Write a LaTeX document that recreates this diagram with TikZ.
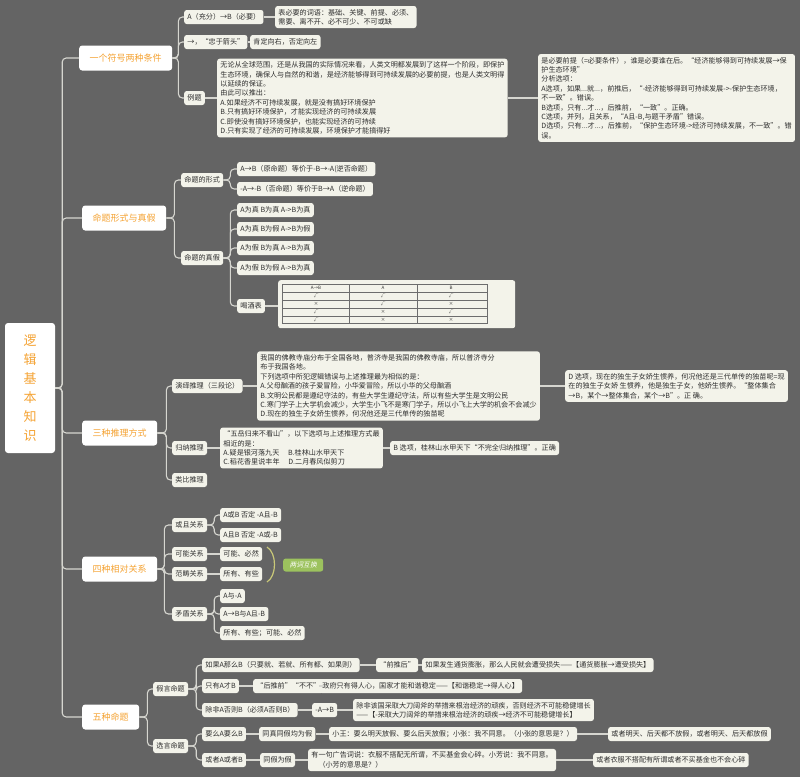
\documentclass[tikz,border=0pt]{standalone}
\usepackage{fontspec}
\setmainfont{Noto Sans CJK SC}
\newfontfamily\slantfont[FakeSlant=0.2]{Noto Sans CJK SC}
\usepackage{xcolor}
\usepackage{tikz}
\usetikzlibrary{positioning,calc}

\definecolor{bgray}{HTML}{646464}
\definecolor{cream}{HTML}{F3F3EA}
\definecolor{linegray}{HTML}{D6D6D0}
\definecolor{orangetxt}{HTML}{F5A333}
\definecolor{inktxt}{HTML}{2E2E2E}
\definecolor{leafgreen}{HTML}{9CC25E}
\definecolor{bracecol}{HTML}{C9C878}

\tikzset{
  rootbox/.style={fill=white, rounded corners=3, text=orangetxt, align=center,
    font=\fontsize{13}{19}\selectfont, minimum width=50, minimum height=130},
  topic/.style={fill=white, rounded corners=3, text=orangetxt, anchor=west,
    font=\fontsize{9}{11}\selectfont, minimum height=25, inner xsep=10.5},
  leaf/.style={fill=cream, rounded corners=2.5, text=inktxt, anchor=west, align=left,
    font=\fontsize{7.1}{9.4}\selectfont, inner xsep=3.2, inner ysep=3, minimum height=14},
  link/.style={draw=linegray, line width=1.1, rounded corners=4},
  tabline/.style={draw=inktxt!70, line width=0.4},
  tabtext/.style={text=inktxt, font=\fontsize{4.5}{5}\selectfont, inner sep=0},
}

\begin{document}
\begin{tikzpicture}[x=1pt,y=-1pt]
  \useasboundingbox (0,0) rectangle (800,777);
  \fill[bgray] (0,0) rectangle (800,777);

  \node[rootbox] (root) at (30,388) {逻\\辑\\基\\本\\知\\识};

  \node[topic] (b1) at (79,58) {一个符号两种条件};
  \node[topic] (b2) at (82,218) {命题形式与真假};
  \node[topic] (b3) at (82,433) {三种推理方式};
  \node[topic] (b4) at (82,569) {四种相对关系};
  \node[topic] (b5) at (82,717) {五种命题};
  \foreach \c in {b1,b2,b3,b4,b5}
    \draw[link] (root.east) -- ++(7,0) |- (\c.west);

  % one symbol, two conditions
  \node[leaf] (n11) at (184,17) {A（充分）→B（必要）};
  \node[leaf] (n111) at (275,17) {表必要的词语：基础、关键、前提、必须、\\需要、离不开、必不可少、不可或缺};
  \node[leaf] (n12) at (184,42) {→，“忠于箭头”};
  \node[leaf] (n121) at (250,42) {肯定向右，否定向左};
  \node[leaf] (n13) at (184,98) {例题};
  \node[leaf] (n131) at (217,98) {无论从全球范围，还是从我国的实际情况来看，人类文明都发展到了这样一个阶段，即保护\\生态环境，确保人与自然的和谐，是经济能够得到可持续发展的必要前提，也是人类文明得\\以延续的保证。\\由此可以推出：\\A.如果经济不可持续发展，就是没有搞好环境保护\\B.只有搞好环境保护，才能实现经济的可持续发展\\C.即使没有搞好环境保护，也能实现经济的可持续\\D.只有实现了经济的可持续发展，环境保护才能搞得好};
  \node[leaf] (n1311) at (538,98) {是必要前提（=必要条件），谁是必要谁在后。“经济能够得到可持续发展→保\\护生态环境”\\分析选项：\\A选项，如果...就...，前推后，“-经济能够得到可持续发展->-保护生态环境，\\不一致”。错误。\\B选项，只有...才...，后推前，“一致”。正确。\\C选项，并列，且关系，“A且-B,与题干矛盾”错误。\\D选项，只有...才...，后推前，“保护生态环境->经济可持续发展，不一致”。错\\误。};
  \foreach \c in {n11,n12,n13}
    \draw[link] (b1.east) -- ++(6,0) |- (\c.west);
  \draw[link] (n11.east) -- (n111.west);
  \draw[link] (n12.east) -- (n121.west);
  \draw[link] (n13.east) -- (n131.west);
  \draw[link] (n131.east) -- (n1311.west);

  % forms and truth
  \node[leaf] (m1) at (181,180) {命题的形式};
  \node[leaf] (m11) at (237,169) {A→B（原命题）等价于-B→-A(逆否命题）};
  \node[leaf] (m12) at (237,189) {-A→-B（否命题）等价于B→A（逆命题）};
  \node[leaf] (m2) at (181,258) {命题的真假};
  \node[leaf] (m21) at (237,210) {A为真 B为真 A->B为真};
  \node[leaf] (m22) at (237,229) {A为真 B为假 A->B为假};
  \node[leaf] (m23) at (237,248) {A为假 B为真 A->B为真};
  \node[leaf] (m24) at (237,268) {A为假 B为假 A->B为真};
  \node[leaf] (m25) at (237,306) {喝酒表};
  \node[leaf, anchor=north west, minimum width=237, minimum height=48, inner sep=0] (tb) at (278,280) {};
  \foreach \c in {m1,m2}
    \draw[link] (b2.east) -- ++(8,0) |- (\c.west);
  \foreach \c in {m11,m12}
    \draw[link] (m1.east) -- ++(7,0) |- (\c.west);
  \foreach \c in {m21,m22,m23,m24,m25}
    \draw[link] (m2.east) -- ++(7,0) |- (\c.west);
  \draw[link] (m25.east) -- (tb.west |- m25.east);

  \draw[tabline] (282,284) rectangle (487,323);
  \foreach \yy in {292,300,308,316}
    \draw[tabline] (282,\yy) -- (487,\yy);
  \foreach \xx in {349,417}
    \draw[tabline] (\xx,284) -- (\xx,323);
  \node[tabtext] (th1) at (316,288) {A→B};
  \node[tabtext] (th2) at (383,288) {A};
  \node[tabtext] (th3) at (451,288) {B};
  \foreach \yy/\p/\q/\r [count=\i] in {296/√/√/√, 304/×/√/×, 312/√/×/√, 320/√/×/×} {
    \node[tabtext] (ta\i) at (316,\yy) {\p};
    \node[tabtext] (tb\i) at (383,\yy) {\q};
    \node[tabtext] (tc\i) at (451,\yy) {\r};
  }

  % three kinds of reasoning
  \node[leaf] (t1) at (172,386) {演绎推理（三段论）};
  \node[leaf] (t11) at (257,386) {我国的佛教寺庙分布于全国各地，普济寺是我国的佛教寺庙，所以普济寺分\\布于我国各地。\\下列选项中所犯逻辑错误与上述推理最为相似的是：\\A.父母酗酒的孩子爱冒险，小华爱冒险，所以小华的父母酗酒\\B.文明公民都是遵纪守法的，有些大学生遵纪守法，所以有些大学生是文明公民\\C.寒门学子上大学机会减少，大学生小飞不是寒门学子，所以小飞上大学的机会不会减少\\D.现在的独生子女娇生惯养，何况他还是三代单传的独苗呢};
  \node[leaf] (t111) at (565,386) {D 选项，现在的独生子女娇生惯养，何况他还是三代单传的独苗呢=现\\在的独生子女娇 生惯养，他是独生子女，他娇生惯养。“整体集合\\→B，某个→整体集合，某个→B”。正 确。};
  \node[leaf] (t2) at (172,448) {归纳推理};
  \node[leaf] (t21) at (220,448) {“五岳归来不看山”，以下选项与上述推理方式最\\相近的是：\\A.疑是银河落九天\quad\ B.桂林山水甲天下\\C.稻花香里说丰年\quad\ D.二月春风似剪刀};
  \node[leaf] (t211) at (390,448) {B 选项，桂林山水甲天下“不完全归纳推理”。正确};
  \node[leaf] (t3) at (172,480) {类比推理};
  \foreach \c in {t1,t2,t3}
    \draw[link] (b3.east) -- ++(9,0) |- (\c.west);
  \draw[link] (t1.east) -- (t11.west);
  \draw[link] (t11.east) -- (t111.west);
  \draw[link] (t2.east) -- (t21.west);
  \draw[link] (t21.east) -- (t211.west);

  % four relations
  \node[leaf] (r1) at (172,525) {或且关系};
  \node[leaf] (r11) at (220,515) {A或B 否定 -A且-B};
  \node[leaf] (r12) at (220,535) {A且B 否定 -A或-B};
  \node[leaf] (r2) at (172,554) {可能关系};
  \node[leaf] (r21) at (220,554) {可能、必然};
  \node[leaf] (r3) at (172,574) {范畴关系};
  \node[leaf] (r31) at (220,574) {所有、有些};
  \node[leaf] (r4) at (172,614) {矛盾关系};
  \node[leaf] (r41) at (220,596) {A与-A};
  \node[leaf] (r42) at (220,614) {A→B与A且-B};
  \node[leaf] (r43) at (220,633) {所有、有些；可能、必然};
  \node[leaf, fill=leafgreen, text=white, font=\slantfont\fontsize{6.8}{9}\selectfont,
    minimum width=40, minimum height=13] (swap) at (283,565) {两词互换};
  \foreach \c in {r1,r2,r3,r4}
    \draw[link] (b4.east) -- ++(7,0) |- (\c.west);
  \foreach \c in {r11,r12}
    \draw[link] (r1.east) -- ++(7,0) |- (\c.west);
  \draw[link] (r2.east) -- (r21.west);
  \draw[link] (r3.east) -- (r31.west);
  \foreach \c in {r41,r42,r43}
    \draw[link] (r4.east) -- ++(7,0) |- (\c.west);
  \coordinate (bracetop) at (267,547);
  \coordinate (bracebot) at (267,582);
  \draw[bracecol, line width=1.2] (bracetop) .. controls (277,553) and (277,576) .. (bracebot);

  % five propositions
  \node[leaf] (f1) at (153,689) {假言命题};
  \node[leaf] (f11) at (202,665) {如果A那么B（只要就、若就、所有都、如果则）};
  \node[leaf] (f111) at (376,665) {“前推后”};
  \node[leaf] (f1111) at (422,665) {如果发生通货膨胀，那么人民就会遭受损失——【通货膨胀→遭受损失】};
  \node[leaf] (f12) at (202,686) {只有A才B};
  \node[leaf] (f121) at (253,686) {“后推前”“不不”};
  \node[leaf] (f1211) at (319,686) {政府只有得人心，国家才能和谐稳定——【和谐稳定→得人心】};
  \node[leaf] (f13) at (202,710) {除非A否则B（必须A否则B）};
  \node[leaf] (f131) at (312,710) {-A→B};
  \node[leaf] (f1311) at (353,710) {除非该国采取大刀阔斧的举措来根治经济的顽疾，否则经济不可能稳健增长\\——【-采取大刀阔斧的举措来根治经济的顽疾→经济不可能稳健增长】};
  \node[leaf] (f2) at (153,746) {选言命题};
  \node[leaf] (f21) at (202,734) {要么A要么B};
  \node[leaf] (f211) at (259,734) {同真同假均为假};
  \node[leaf] (f2111) at (329,734) {小王：要么明天放假、要么后天放假；小张：我不同意。（小张的意思是？）};
  \node[leaf] (f21111) at (608,734) {或者明天、后天都不放假，或者明天、后天都放假};
  \node[leaf] (f22) at (202,760) {或者A或者B};
  \node[leaf] (f221) at (260,760) {同假为假};
  \node[leaf] (f2211) at (308,760) {有一句广告词说：衣服不搭配无所谓，不买基金会心碎。小芳说：我不同意。\\\quad（小芳的意思是？）};
  \node[leaf] (f22111) at (593,760) {或者衣服不搭配有所谓或者不买基金也不会心碎};
  \foreach \c in {f1,f2}
    \draw[link] (b5.east) -- ++(8,0) |- (\c.west);
  \foreach \c in {f11,f12,f13}
    \draw[link] (f1.east) -- ++(8,0) |- (\c.west);
  \foreach \c in {f21,f22}
    \draw[link] (f2.east) -- ++(8,0) |- (\c.west);
  \draw[link] (f11.east) -- (f111.west);
  \draw[link] (f111.east) -- (f1111.west);
  \draw[link] (f12.east) -- (f121.west);
  \draw[link] (f121.east) -- (f1211.west);
  \draw[link] (f13.east) -- (f131.west);
  \draw[link] (f131.east) -- (f1311.west);
  \draw[link] (f21.east) -- (f211.west);
  \draw[link] (f211.east) -- (f2111.west);
  \draw[link] (f2111.east) -- (f21111.west);
  \draw[link] (f22.east) -- (f221.west);
  \draw[link] (f221.east) -- (f2211.west);
  \draw[link] (f2211.east) -- (f22111.west);
\end{tikzpicture}
\end{document}
